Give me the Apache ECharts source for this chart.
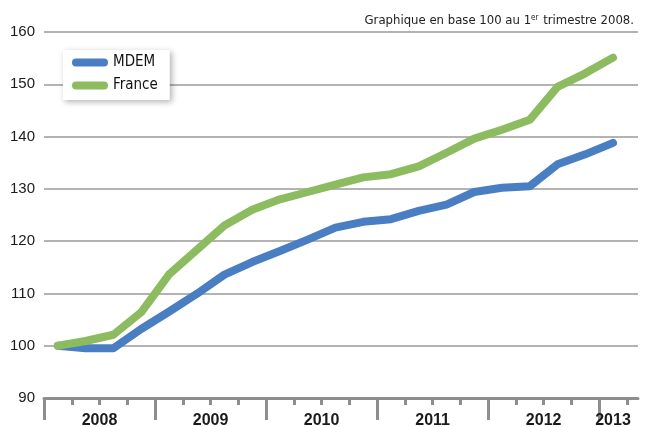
<!DOCTYPE html>
<html>
<head>
<meta charset="utf-8">
<script src="https://cdn.jsdelivr.net/npm/echarts@6/dist/echarts.min.js"></script>
<style>
  html, body { margin: 0; padding: 0; background: #fff; }
  #chart { width: 645px; height: 427px; }
</style>
</head>
<body>
<div id="chart"></div>
<script>
  // trimestres T1 2008 -> T1 2013
  var quarters = ['2008T1','2008T2','2008T3','2008T4','2009T1','2009T2','2009T3','2009T4',
    '2010T1','2010T2','2010T3','2010T4','2011T1','2011T2','2011T3','2011T4',
    '2012T1','2012T2','2012T3','2012T4','2013T1'];
  var years = ['2008', '2009', '2010', '2011', '2012', '2013'];
  var mdem = [100, 99.5, 99.5, 103.2, 106.5, 109.9, 113.6, 116.0, 118.1, 120.3, 122.6,
    123.7, 124.2, 125.8, 127.0, 129.4, 130.2, 130.5, 134.7, 136.6, 138.8];
  var france = [100, 100.9, 102.1, 106.4, 113.6, 118.3, 123.0, 126.0, 128.0, 129.4, 130.8,
    132.2, 132.8, 134.3, 136.9, 139.6, 141.3, 143.2, 149.5, 152.1, 155.1];
  var yTicks = [90, 100, 110, 120, 130, 140, 150, 160];

  var narrow = "'DejaVu Sans Condensed', 'Liberation Sans', sans-serif";
  var axisGray = '#8e8e8e';

  // position of each quarter on the x value axis (centre of the quarter)
  function toPoints(values) {
    return values.map(function (v, i) { return [i + 0.5, v]; });
  }
  var minorTicks = [];
  var majorTicks = [];
  for (var q = 0; q <= quarters.length; q++) {
    if (q % 4 === 0) majorTicks.push(q); else minorTicks.push(q);
  }
  var yearLabelPos = years.map(function (y, i) {
    return i < years.length - 1 ? i * 4 + 2 : i * 4 + 0.5;
  });

  var myChart = echarts.init(document.getElementById('chart'));
  myChart.setOption({
    animation: false,
    title: {
      right: 6,
      top: 9,
      text: '{a|Graphique en base 100 au 1}{s|er}{a| trimestre 2008.}',
      textStyle: {
        fontWeight: 'normal',
        rich: {
          a: { fontFamily: narrow, fontSize: 13, fontWeight: 'normal', color: '#222' },
          s: { fontFamily: narrow, fontSize: 8, fontWeight: 'normal', color: '#222', verticalAlign: 'top', padding: [0, 1, 6, 0] }
        }
      }
    },
    legend: {
      data: ['MDEM', 'France'],
      orient: 'vertical',
      left: 63,
      top: 50,
      padding: [5, 12, 7, 9],
      itemWidth: 36,
      itemHeight: 8,
      itemGap: 8,
      icon: 'path://M4,0H32A4,4,0,0,1,32,8H4A4,4,0,0,1,4,0Z',
      backgroundColor: '#fff',
      shadowBlur: 6,
      shadowColor: 'rgba(0,0,0,0.3)',
      shadowOffsetX: 2,
      shadowOffsetY: 2,
      textStyle: { fontFamily: narrow, fontSize: 15, color: '#111' }
    },
    grid: { left: 44, right: 7, top: 32, bottom: 29, containLabel: false, outerBoundsMode: 'none' },
    xAxis: [{
      type: 'value',
      min: 0,
      max: 21.4,
      position: 'bottom',
      splitLine: { show: false },
      axisLine: { show: true, lineStyle: { color: axisGray, width: 3 } },
      axisTick: { show: true, customValues: minorTicks, length: 7, lineStyle: { color: axisGray, width: 3 } },
      axisLabel: {
        customValues: yearLabelPos,
        formatter: function (v) { return years[Math.floor(v / 4)]; },
        fontFamily: 'Liberation Sans, sans-serif',
        fontWeight: 'bold',
        fontSize: 16,
        color: '#1a1a1a',
        margin: 15
      }
    }, {
      type: 'value',
      min: 0,
      max: 21.4,
      position: 'bottom',
      splitLine: { show: false },
      axisLine: { show: false },
      axisTick: { show: true, customValues: majorTicks, length: 22, lineStyle: { color: axisGray, width: 3 } },
      axisLabel: { show: false }
    }],
    yAxis: {
      type: 'value',
      min: yTicks[0],
      max: yTicks[yTicks.length - 1],
      interval: 10,
      axisLine: { show: false },
      axisTick: { show: false },
      splitLine: { lineStyle: { color: '#9a9a9a', width: 1.5 } },
      axisLabel: { fontFamily: 'Liberation Sans, sans-serif', fontSize: 15, color: '#1a1a1a', margin: 9 }
    },
    series: [{
      name: 'MDEM',
      type: 'line',
      xAxisIndex: 0,
      data: toPoints(mdem),
      symbol: 'none',
      itemStyle: { color: '#4a7ec2' },
      lineStyle: { color: '#4a7ec2', width: 8, cap: 'round', join: 'round' }
    }, {
      name: 'France',
      type: 'line',
      xAxisIndex: 0,
      data: toPoints(france),
      symbol: 'none',
      itemStyle: { color: '#8dbb5f' },
      lineStyle: { color: '#8dbb5f', width: 8, cap: 'round', join: 'round' }
    }]
  });
</script>
</body>
</html>
